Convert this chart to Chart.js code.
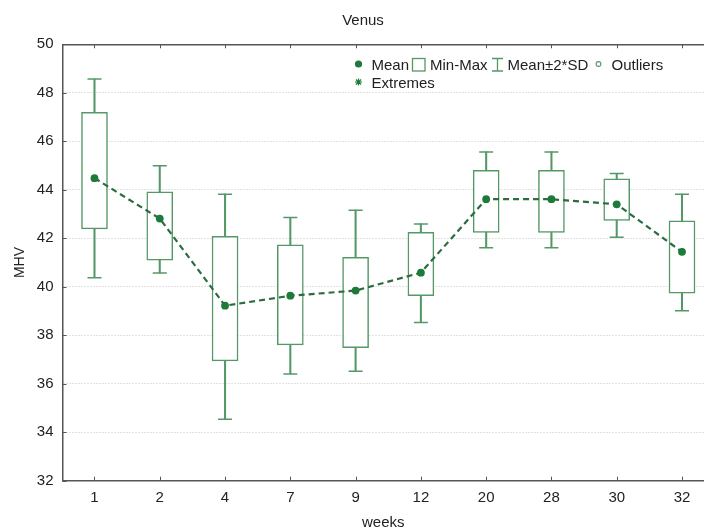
<!DOCTYPE html>
<html>
<head>
<meta charset="utf-8">
<script src="https://cdn.jsdelivr.net/npm/chart.js@4/dist/chart.umd.min.js"></script>
<style>
html,body{margin:0;padding:0;background:#fff;}
#wrap{width:704px;height:532px;}
</style>
</head>
<body>
<div id="wrap"><canvas id="c" width="704" height="532"></canvas></div>
<script>
// ---- data ----
const weeks   = ['1','2','4','7','9','12','20','28','30','32'];
const means   = [44.48, 42.81, 39.22, 39.63, 39.84, 40.58, 43.61, 43.61, 43.40, 41.44];
const minVals = [42.39, 41.10, 36.94, 37.60, 37.49, 39.63, 42.24, 42.24, 42.74, 39.74];
const maxVals = [47.19, 43.92, 42.08, 41.73, 41.21, 42.24, 44.80, 44.80, 44.45, 42.72];
const sdLow   = [40.37, 40.57, 34.53, 36.40, 36.51, 38.53, 41.61, 41.61, 42.04, 39.01];
const sdHigh  = [48.57, 44.99, 43.82, 42.86, 43.16, 42.59, 45.56, 45.56, 44.67, 43.82];
const yTicks  = [32, 34, 36, 38, 40, 42, 44, 46, 48, 50];

const FONT = '"Liberation Sans", Arial, sans-serif';
const BOX = '#559868';
const MEANC = '#1d7a38';
const LINEC = '#2d6c40';
const AXIS = '#555555';
const TXT = '#222222';

const idx = weeks.map((_, i) => i);

const decor = {
  id: 'decor',
  afterDraw(chart) {
    const ctx = chart.ctx;
    const xs = chart.scales.x, ys = chart.scales.y;
    const a = chart.chartArea;
    ctx.save();
    // inward ticks
    ctx.strokeStyle = AXIS;
    ctx.lineWidth = 1;
    idx.forEach(i => {
      const px = Math.round(xs.getPixelForValue(i)) + 0.5;
      ctx.beginPath(); ctx.moveTo(px, a.bottom); ctx.lineTo(px, a.bottom - 4); ctx.stroke();
      ctx.beginPath(); ctx.moveTo(px, a.top); ctx.lineTo(px, a.top + 4); ctx.stroke();
    });
    yTicks.forEach(v => {
      const py = Math.round(ys.getPixelForValue(v)) + 0.5;
      ctx.beginPath(); ctx.moveTo(a.left, py); ctx.lineTo(a.left + 4, py); ctx.stroke();
    });
    // title
    ctx.fillStyle = TXT;
    ctx.font = '15px ' + FONT;
    ctx.textAlign = 'center';
    ctx.textBaseline = 'middle';
    ctx.fillText('Venus', 363, 21);
    // legend
    ctx.font = '15px ' + FONT;
    ctx.textAlign = 'left';
    ctx.textBaseline = 'alphabetic';
    // Mean marker
    ctx.fillStyle = MEANC;
    ctx.beginPath(); ctx.arc(358.5, 64, 3.6, 0, Math.PI * 2); ctx.fill();
    ctx.fillStyle = TXT; ctx.fillText('Mean', 371.5, 70);
    // Min-Max box
    ctx.strokeStyle = BOX; ctx.lineWidth = 1.3;
    ctx.strokeRect(412.5, 58.5, 12.5, 12.5);
    ctx.fillStyle = TXT; ctx.fillText('Min-Max', 430, 70);
    // whisker icon
    ctx.beginPath();
    ctx.moveTo(492, 58.5); ctx.lineTo(503, 58.5);
    ctx.moveTo(497.5, 58.5); ctx.lineTo(497.5, 71);
    ctx.moveTo(492, 71); ctx.lineTo(503, 71);
    ctx.stroke();
    ctx.fillText('Mean\u00B12*SD', 507.5, 70);
    // outliers circle
    ctx.strokeStyle = BOX; ctx.lineWidth = 1.1;
    ctx.beginPath(); ctx.arc(598.5, 64, 2.4, 0, Math.PI * 2); ctx.stroke();
    ctx.fillText('Outliers', 611.5, 70);
    // extremes asterisk
    ctx.strokeStyle = MEANC; ctx.lineWidth = 1.2;
    const cx = 358.5, cy = 82, r = 3.6;
    ctx.beginPath();
    for (let k = 0; k < 4; k++) {
      const ang = k * Math.PI / 4;
      ctx.moveTo(cx - r * Math.cos(ang), cy - r * Math.sin(ang));
      ctx.lineTo(cx + r * Math.cos(ang), cy + r * Math.sin(ang));
    }
    ctx.stroke();
    ctx.fillText('Extremes', 371.5, 87.5);
    ctx.restore();
  }
};

new Chart(document.getElementById('c'), {
  type: 'scatter',
  data: {
    datasets: [
      {
        type: 'line', label: 'Mean',
        data: idx.map(i => ({x: i, y: means[i]})),
        borderColor: LINEC, borderWidth: 2.2, borderDash: [6, 4],
        pointRadius: 3.9, pointBackgroundColor: MEANC, pointBorderColor: MEANC, pointBorderWidth: 0,
        tension: 0, fill: false, order: 1
      },
      {
        type: 'bar', label: 'Min-Max',
        data: idx.map(i => ({x: i, y: [minVals[i], maxVals[i]]})),
        backgroundColor: '#ffffff', borderColor: BOX, borderWidth: 1.5, borderSkipped: false,
        barThickness: 26, grouped: false, order: 2
      },
      {
        type: 'scatter', label: 'caps',
        data: idx.map(i => ({x: i, y: sdHigh[i]})).concat(idx.map(i => ({x: i, y: sdLow[i]}))),
        pointStyle: 'line', pointRadius: 7, borderColor: BOX, borderWidth: 1.5,
        backgroundColor: BOX, order: 3
      },
      {
        type: 'bar', label: 'Mean\u00B12*SD',
        data: idx.map(i => ({x: i, y: [sdLow[i], sdHigh[i]]})),
        backgroundColor: BOX, borderWidth: 0, barThickness: 1.4, grouped: false, order: 4
      }
    ]
  },
  options: {
    responsive: false,
    animation: false,
    events: [],
    layout: { autoPadding: false, padding: { top: 44.3, left: 0, right: 0, bottom: 0 } },
    plugins: { legend: { display: false }, title: { display: false }, tooltip: { enabled: false } },
    scales: {
      x: {
        type: 'linear', position: 'bottom', min: -0.49, max: 9.337, offset: false,
        afterFit(s) { s.height = 51.3; s.paddingLeft = 0; s.paddingRight = 0; },
        ticks: {
          stepSize: 1, includeBounds: false, autoSkip: false, maxRotation: 0, padding: 8,
          color: TXT, font: { family: FONT, size: 15 },
          callback: v => (Number.isInteger(v) && weeks[v] !== undefined) ? weeks[v] : ''
        },
        grid: { display: false, drawTicks: false },
        border: { display: true, color: AXIS, width: 1.5 },
        title: { display: true, text: 'weeks', color: TXT, font: { family: FONT, size: 15 }, padding: { top: 0, bottom: 0 } }
      },
      x2: {
        type: 'linear', position: 'top', min: -0.49, max: 9.337, offset: false,
        afterFit(s) { s.height = 0; s.paddingLeft = 0; s.paddingRight = 0; },
        ticks: { display: false },
        grid: { display: false, drawTicks: false },
        border: { display: true, color: AXIS, width: 1.5 }
      },
      y: {
        type: 'linear', position: 'left', min: 32, max: 50,
        afterFit(s) { s.width = 62.5; },
        ticks: { stepSize: 2, padding: 9, color: TXT, font: { family: FONT, size: 15 } },
        grid: { color: '#c4c4c4', lineWidth: 1, drawTicks: false },
        border: { display: true, color: AXIS, width: 1.5, dash: [1, 2] },
        title: { display: true, text: 'MHV', color: TXT, font: { family: FONT, size: 14 }, padding: { top: 12, bottom: 0 } }
      }
    }
  },
  plugins: [decor]
});
</script>
</body>
</html>
